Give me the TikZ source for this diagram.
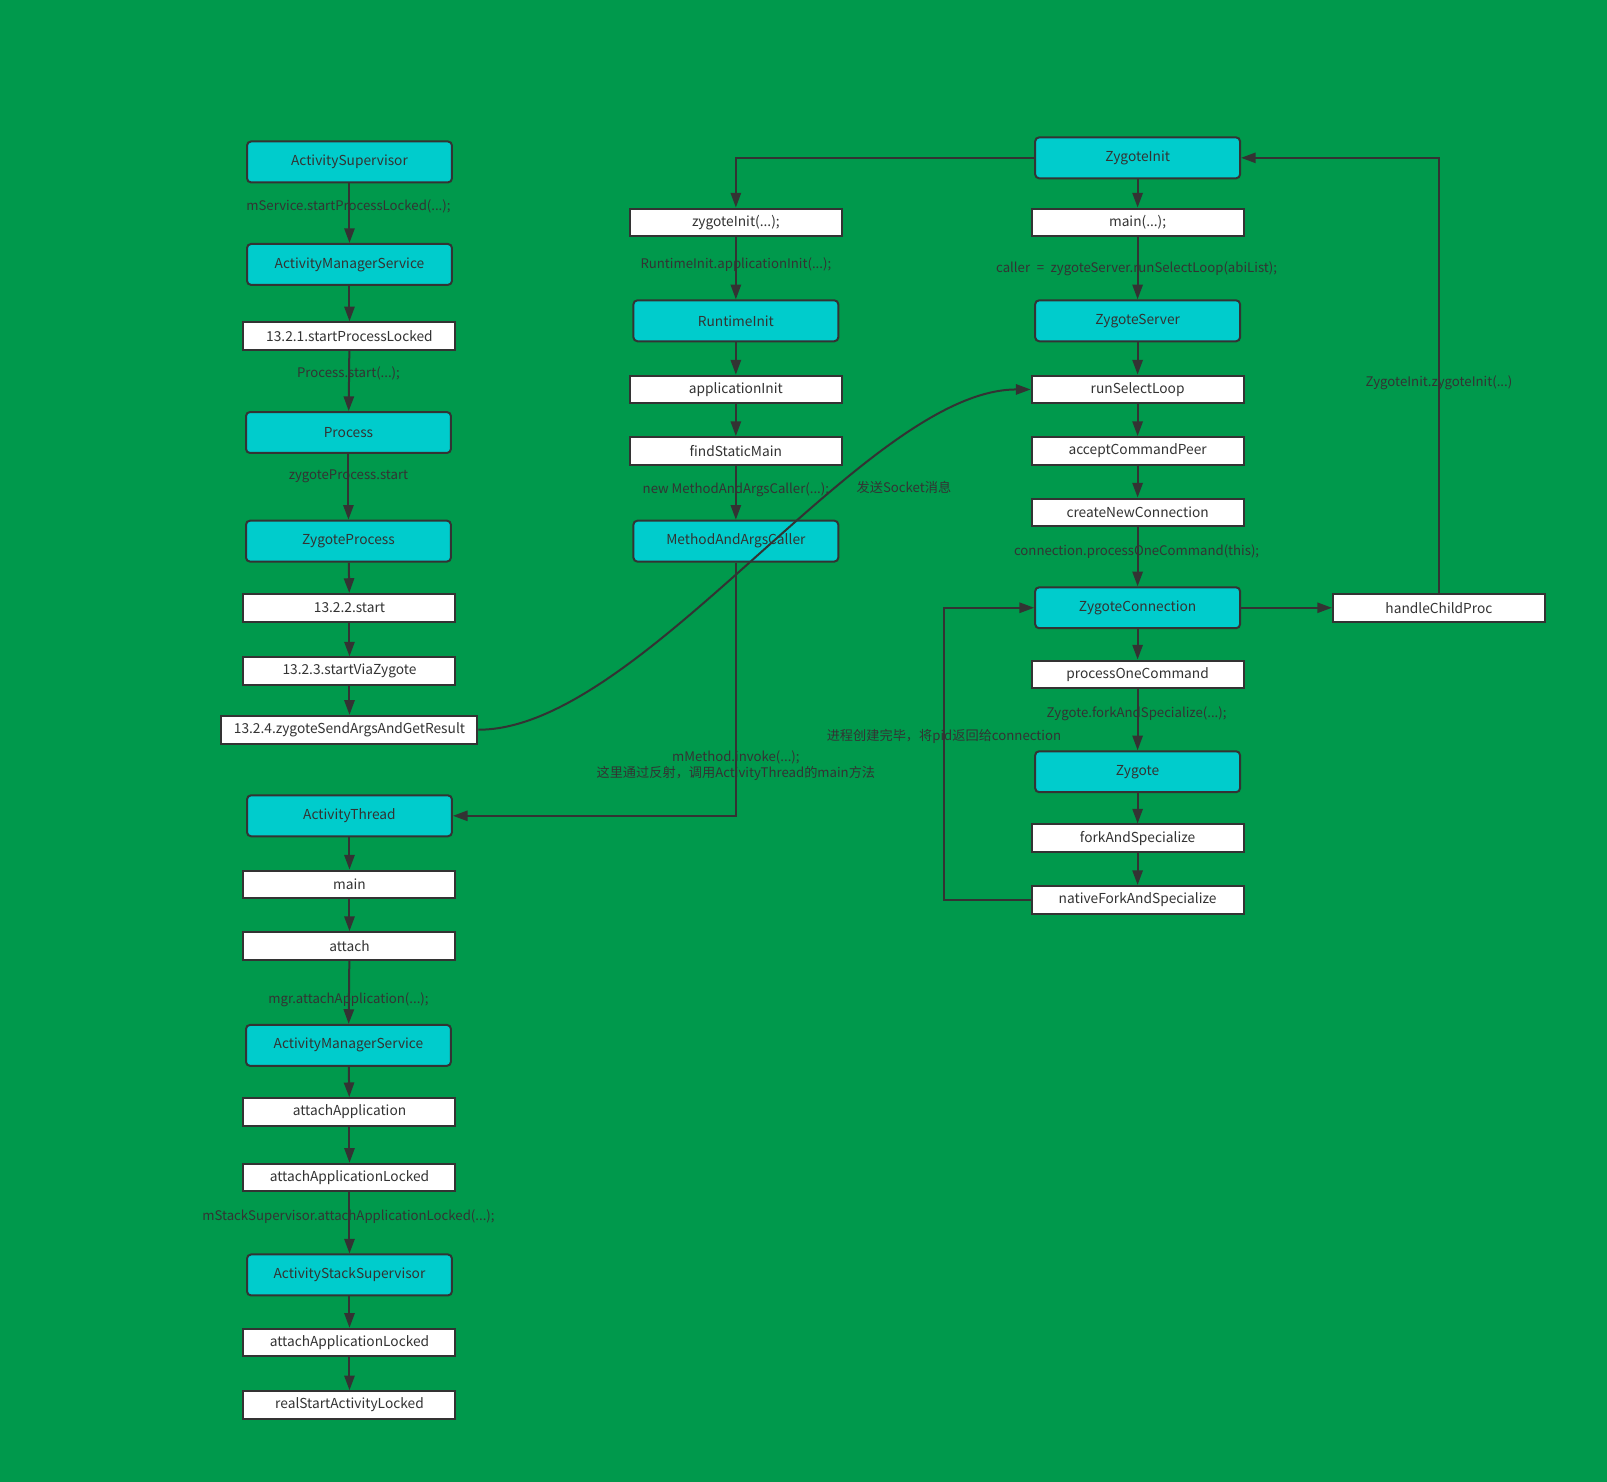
\documentclass[tikz,border=0pt]{standalone}
\usepackage{fontspec}
\setmainfont{Noto Sans CJK SC}
\usepackage{tikz}
\usetikzlibrary{arrows.meta}
\definecolor{bggreen}{RGB}{0,153,76}
\definecolor{boxcyan}{RGB}{0,204,204}
\definecolor{linegray}{RGB}{51,51,51}

\begin{document}
\begin{tikzpicture}[x=0.7687pt,y=-0.7687pt,
  every node/.style={text=linegray},
  cls/.style={draw=linegray,line width=1.5pt,fill=boxcyan,rounded corners=3pt,minimum width=153.7pt,minimum height=30.7pt,inner sep=0pt,font=\fontsize{10.3}{12}\selectfont},
  fn/.style={draw=linegray,line width=1.5pt,fill=white,minimum width=159pt,minimum height=20.8pt,inner sep=0pt,font=\fontsize{10.3}{12}\selectfont},
  call/.style={inner sep=1pt,font=\fontsize{9.9}{11.5}\selectfont},
  flow/.style={draw=linegray,line width=1.5pt,-{Triangle[length=11pt,width=7.7pt]}}]
\fill[bggreen] (0,0) rectangle (1568,1446);
\useasboundingbox (0,0) rectangle (1568,1446);

\node[cls] (as) at (341,158) {ActivitySupervisor};
\node[cls] (ams1) at (341,258) {ActivityManagerService};
\node[fn] (spl) at (341,328) {13.2.1.startProcessLocked};
\node[cls] (proc) at (340,422) {Process};
\node[cls] (zp) at (340,528) {ZygoteProcess};
\node[fn] (st) at (341,593) {13.2.2.start};
\node[fn] (svz) at (341,655) {13.2.3.startViaZygote};
\node[fn,minimum width=192pt] (zsa) at (341,712) {13.2.4.zygoteSendArgsAndGetResult};
\node[cls] (at) at (341,796) {ActivityThread};
\node[fn] (atmain) at (341,863) {main};
\node[fn] (attach) at (341,923) {attach};
\node[cls] (ams2) at (340,1020) {ActivityManagerService};
\node[fn] (aa) at (341,1085) {attachApplication};
\node[fn] (aal1) at (341,1149) {attachApplicationLocked};
\node[cls] (ass) at (341,1244) {ActivityStackSupervisor};
\node[fn] (aal2) at (341,1310) {attachApplicationLocked};
\node[fn] (rsal) at (341,1371) {realStartActivityLocked};

\node[fn] (zi) at (718,217) {zygoteInit(...);};
\node[cls] (ri) at (718,313) {RuntimeInit};
\node[fn] (ai) at (718,380) {applicationInit};
\node[fn] (fsm) at (718,440) {findStaticMain};
\node[cls] (maac) at (718,528) {MethodAndArgsCaller};

\node[cls] (zinit) at (1110,154) {ZygoteInit};
\node[fn] (zmain) at (1110,217) {main(...);};
\node[cls] (zs) at (1110,313) {ZygoteServer};
\node[fn] (rsl) at (1110,380) {runSelectLoop};
\node[fn] (acp) at (1110,440) {acceptCommandPeer};
\node[fn] (cnc) at (1110,500) {createNewConnection};
\node[cls] (zc) at (1110,593) {ZygoteConnection};
\node[fn] (poc) at (1110,658) {processOneCommand};
\node[cls] (zyg) at (1110,753) {Zygote};
\node[fn] (fas) at (1110,818) {forkAndSpecialize};
\node[fn] (nfas) at (1110,878) {nativeForkAndSpecialize};
\node[fn] (hcp) at (1404,593) {handleChildProc};

\draw[flow] (as) -- (ams1);
\draw[flow] (ams1) -- (spl);
\draw[flow] (spl) -- (proc);
\draw[flow] (proc) -- (zp);
\draw[flow] (zp) -- (st);
\draw[flow] (st) -- (svz);
\draw[flow] (svz) -- (zsa);
\draw[flow] (at) -- (atmain);
\draw[flow] (atmain) -- (attach);
\draw[flow] (attach) -- (ams2);
\draw[flow] (ams2) -- (aa);
\draw[flow] (aa) -- (aal1);
\draw[flow] (aal1) -- (ass);
\draw[flow] (ass) -- (aal2);
\draw[flow] (aal2) -- (rsal);

\draw[flow] (zinit.west) -| (zi.north);
\draw[flow] (zi) -- (ri);
\draw[flow] (ri) -- (ai);
\draw[flow] (ai) -- (fsm);
\draw[flow] (fsm) -- (maac);
\draw[flow] (maac.south) |- (at.east);

\draw[flow] (zinit) -- (zmain);
\draw[flow] (zmain) -- (zs);
\draw[flow] (zs) -- (rsl);
\draw[flow] (rsl) -- (acp);
\draw[flow] (acp) -- (cnc);
\draw[flow] (cnc) -- (zc);
\draw[flow] (zc) -- (poc);
\draw[flow] (poc) -- (zyg);
\draw[flow] (zyg) -- (fas);
\draw[flow] (fas) -- (nfas);
\draw[flow] (nfas.west) -- ++(-85,0) |- (zc.west);
\draw[flow] (zc) -- (hcp);
\draw[flow] (hcp.north) |- (zinit.east);

\draw[flow] (zsa.east) .. controls +(160,0) and +(-160,0) .. (rsl.west);

\node[call] (l1) at (340,201) {mService.startProcessLocked(...);};
\node[call] (l2) at (340,364) {Process.start(...);};
\node[call] (l3) at (340,465) {zygoteProcess.start};
\node[call] (l4) at (340,975) {mgr.attachApplication(...);};
\node[call] (l5) at (340,1187) {mStackSupervisor.attachApplicationLocked(...);};
\node[call] (l6) at (718,258) {RuntimeInit.applicationInit(...);};
\node[call] (l7) at (718,478) {new MethodAndArgsCaller(...);};
\node[call] (l8) at (882,476) {发送Socket消息};
\node[call,align=center] (l9) at (718,747) {mMethod.invoke(...);\\[0.5pt]这里通过反射，调用ActivityThread的main方法};
\node[call] (l10) at (1109,262) {caller\enspace=\enspace zygoteServer.runSelectLoop(abiList);};
\node[call] (l11) at (1109,538) {connection.processOneCommand(this);};
\node[call] (l12) at (1109,696) {Zygote.forkAndSpecialize(...);};
\node[call] (l13) at (921,719) {进程创建完毕，将pid返回给connection};
\node[call] (l14) at (1404,373) {ZygoteInit.zygoteInit(...)};
\end{tikzpicture}
\end{document}
